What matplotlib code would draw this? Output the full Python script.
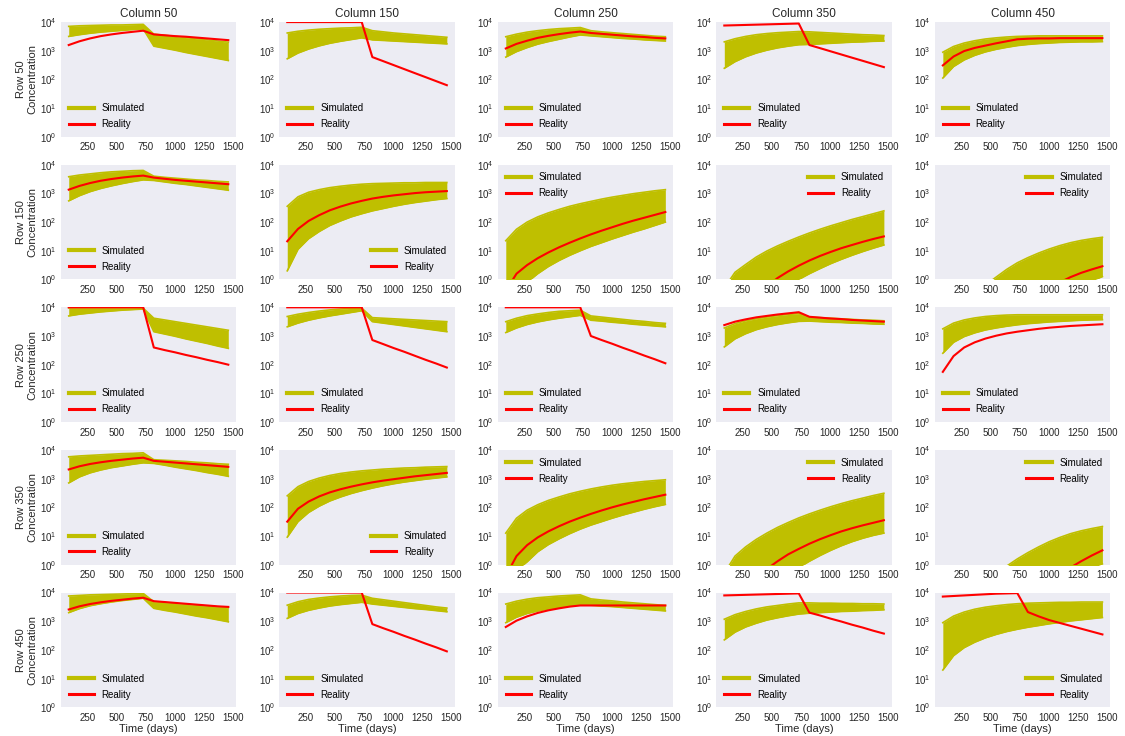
import numpy as np
import matplotlib
matplotlib.use("Agg")
import matplotlib.pyplot as plt
from matplotlib.lines import Line2D

plt.rcParams['font.family'] = ['Liberation Sans', 'DejaVu Sans']

# sampling times (days), roughly quarterly
days = [91, 183, 274, 365, 456, 548, 639, 730, 821, 913, 1004, 1095, 1186, 1278, 1369, 1460]

rows = [50, 150, 250, 350, 450]
cols = [50, 150, 250, 350, 450]

# log10 concentration: upper / lower edge of the simulated ensemble, and observed
sim_hi_row50 = [
    [3.85, 3.87, 3.88, 3.89, 3.90, 3.90, 3.91, 3.92, 3.58, 3.54, 3.50, 3.46, 3.42, 3.38, 3.34, 3.30],
    [3.62, 3.68, 3.72, 3.75, 3.77, 3.79, 3.80, 3.82, 3.70, 3.66, 3.62, 3.59, 3.56, 3.53, 3.50, 3.47],
    [3.49, 3.58, 3.65, 3.70, 3.74, 3.77, 3.79, 3.81, 3.70, 3.66, 3.63, 3.60, 3.57, 3.54, 3.51, 3.49],
    [3.31, 3.42, 3.50, 3.56, 3.60, 3.63, 3.65, 3.67, 3.66, 3.64, 3.62, 3.60, 3.58, 3.56, 3.55, 3.53],
    [2.95, 3.15, 3.27, 3.35, 3.41, 3.45, 3.48, 3.50, 3.51, 3.52, 3.52, 3.52, 3.52, 3.52, 3.52, 3.52],
]
sim_lo_row50 = [
    [3.50, 3.56, 3.61, 3.65, 3.68, 3.71, 3.74, 3.76, 3.16, 3.09, 3.02, 2.94, 2.87, 2.80, 2.73, 2.66],
    [2.72, 2.92, 3.06, 3.17, 3.26, 3.33, 3.39, 3.45, 3.38, 3.36, 3.34, 3.32, 3.30, 3.28, 3.26, 3.24],
    [2.78, 2.97, 3.11, 3.23, 3.32, 3.40, 3.48, 3.55, 3.52, 3.49, 3.46, 3.43, 3.41, 3.38, 3.36, 3.34],
    [2.39, 2.62, 2.79, 2.92, 3.02, 3.10, 3.16, 3.21, 3.22, 3.24, 3.26, 3.28, 3.30, 3.31, 3.33, 3.34],
    [2.05, 2.45, 2.68, 2.84, 2.96, 3.05, 3.12, 3.18, 3.22, 3.25, 3.27, 3.29, 3.30, 3.31, 3.31, 3.32],
]
obs_row50 = [
    [3.20, 3.33, 3.43, 3.51, 3.57, 3.62, 3.66, 3.70, 3.57, 3.54, 3.51, 3.49, 3.46, 3.43, 3.40, 3.37],
    [4.00, 4.00, 4.00, 4.00, 4.00, 4.00, 4.00, 4.00, 2.78, 2.64, 2.50, 2.36, 2.22, 2.08, 1.94, 1.80],
    [3.08, 3.24, 3.35, 3.45, 3.52, 3.58, 3.63, 3.67, 3.62, 3.59, 3.56, 3.53, 3.50, 3.48, 3.45, 3.43],
    [3.88, 3.89, 3.90, 3.91, 3.92, 3.93, 3.94, 3.95, 3.20, 3.09, 2.98, 2.87, 2.76, 2.65, 2.54, 2.43],
    [2.49, 2.80, 2.99, 3.10, 3.18, 3.26, 3.33, 3.40, 3.42, 3.43, 3.43, 3.44, 3.44, 3.44, 3.44, 3.44],
]

sim_hi_row150 = [
    [3.58, 3.64, 3.68, 3.72, 3.75, 3.77, 3.79, 3.80, 3.60, 3.56, 3.53, 3.50, 3.47, 3.45, 3.42, 3.40],
    [2.55, 2.88, 3.04, 3.13, 3.20, 3.25, 3.29, 3.32, 3.34, 3.35, 3.36, 3.37, 3.37, 3.38, 3.38, 3.38],
    [1.35, 1.75, 2.00, 2.18, 2.32, 2.44, 2.55, 2.64, 2.72, 2.80, 2.87, 2.93, 2.99, 3.04, 3.09, 3.13],
    [-0.30, 0.25, 0.52, 0.78, 0.99, 1.17, 1.33, 1.48, 1.62, 1.75, 1.87, 1.98, 2.09, 2.19, 2.29, 2.39],
    [-1.80, -1.30, -0.90, -0.55, -0.20, 0.08, 0.35, 0.58, 0.76, 0.92, 1.06, 1.18, 1.28, 1.36, 1.42, 1.47],
]
sim_lo_row150 = [
    [2.74, 2.92, 3.06, 3.17, 3.26, 3.34, 3.41, 3.47, 3.45, 3.40, 3.35, 3.31, 3.26, 3.21, 3.16, 3.11],
    [0.30, 1.05, 1.42, 1.67, 1.88, 2.04, 2.18, 2.29, 2.39, 2.47, 2.55, 2.62, 2.68, 2.73, 2.78, 2.82],
    [-1.00, -0.50, -0.10, 0.20, 0.45, 0.66, 0.84, 1.00, 1.15, 1.28, 1.41, 1.53, 1.65, 1.76, 1.88, 2.00],
    [-2.50, -2.00, -1.60, -1.20, -0.85, -0.55, -0.25, 0.00, 0.20, 0.38, 0.55, 0.70, 0.84, 0.97, 1.09, 1.20],
    [-4.00, -3.50, -3.00, -2.60, -2.20, -1.85, -1.55, -1.28, -1.05, -0.84, -0.65, -0.48, -0.32, -0.18, -0.05, 0.10],
]
obs_row150 = [
    [3.13, 3.26, 3.36, 3.44, 3.50, 3.55, 3.59, 3.62, 3.55, 3.51, 3.47, 3.44, 3.41, 3.38, 3.35, 3.32],
    [1.33, 1.76, 2.04, 2.24, 2.41, 2.54, 2.65, 2.74, 2.82, 2.88, 2.93, 2.97, 3.01, 3.04, 3.06, 3.08],
    [-0.40, 0.20, 0.50, 0.74, 0.94, 1.12, 1.28, 1.43, 1.57, 1.70, 1.82, 1.94, 2.05, 2.15, 2.25, 2.35],
    [-1.60, -1.20, -0.85, -0.55, -0.25, 0.05, 0.28, 0.48, 0.66, 0.82, 0.96, 1.09, 1.20, 1.31, 1.41, 1.50],
    [-3.50, -3.00, -2.60, -2.20, -1.85, -1.50, -1.20, -0.95, -0.70, -0.48, -0.28, -0.10, 0.08, 0.23, 0.35, 0.46],
]

sim_hi_row250 = [
    [3.98, 3.98, 3.98, 3.98, 3.98, 3.98, 3.98, 3.97, 3.62, 3.56, 3.50, 3.44, 3.38, 3.32, 3.26, 3.20],
    [3.68, 3.76, 3.82, 3.87, 3.91, 3.94, 3.96, 3.97, 3.64, 3.62, 3.60, 3.58, 3.56, 3.54, 3.52, 3.50],
    [3.50, 3.62, 3.71, 3.77, 3.82, 3.86, 3.88, 3.90, 3.70, 3.66, 3.62, 3.58, 3.54, 3.51, 3.47, 3.44],
    [3.28, 3.43, 3.53, 3.60, 3.66, 3.71, 3.75, 3.78, 3.66, 3.64, 3.62, 3.60, 3.58, 3.56, 3.55, 3.53],
    [3.25, 3.45, 3.56, 3.63, 3.68, 3.71, 3.73, 3.74, 3.74, 3.74, 3.74, 3.74, 3.74, 3.74, 3.74, 3.74],
]
sim_lo_row250 = [
    [3.70, 3.76, 3.80, 3.84, 3.87, 3.90, 3.92, 3.94, 3.15, 3.07, 2.99, 2.90, 2.82, 2.74, 2.65, 2.57],
    [3.32, 3.45, 3.55, 3.63, 3.70, 3.76, 3.82, 3.88, 3.50, 3.45, 3.40, 3.35, 3.30, 3.25, 3.20, 3.15],
    [3.12, 3.28, 3.40, 3.49, 3.56, 3.62, 3.67, 3.72, 3.55, 3.52, 3.48, 3.45, 3.41, 3.38, 3.35, 3.32],
    [2.62, 2.90, 3.08, 3.22, 3.32, 3.40, 3.46, 3.51, 3.52, 3.50, 3.48, 3.47, 3.45, 3.44, 3.42, 3.41],
    [2.40, 2.78, 2.98, 3.11, 3.21, 3.28, 3.34, 3.39, 3.43, 3.46, 3.49, 3.51, 3.53, 3.55, 3.56, 3.57],
]
obs_row250 = [
    [4.00, 4.00, 4.00, 4.00, 4.00, 4.00, 4.00, 4.00, 2.60, 2.51, 2.43, 2.34, 2.26, 2.17, 2.09, 2.00],
    [4.00, 4.00, 4.00, 4.00, 4.00, 4.00, 4.00, 4.00, 2.86, 2.72, 2.58, 2.45, 2.31, 2.17, 2.04, 1.90],
    [4.00, 4.00, 4.00, 4.00, 4.00, 4.00, 4.00, 4.00, 3.00, 2.86, 2.73, 2.59, 2.46, 2.32, 2.19, 2.05],
    [3.38, 3.50, 3.58, 3.65, 3.70, 3.75, 3.79, 3.83, 3.67, 3.64, 3.61, 3.59, 3.56, 3.54, 3.52, 3.50],
    [1.75, 2.30, 2.60, 2.78, 2.91, 3.01, 3.09, 3.15, 3.20, 3.25, 3.29, 3.32, 3.35, 3.37, 3.39, 3.41],
]

sim_hi_row350 = [
    [3.76, 3.79, 3.81, 3.83, 3.85, 3.87, 3.88, 3.90, 3.66, 3.64, 3.62, 3.60, 3.57, 3.55, 3.52, 3.50],
    [2.40, 2.72, 2.90, 3.02, 3.11, 3.18, 3.23, 3.27, 3.30, 3.33, 3.35, 3.37, 3.38, 3.40, 3.41, 3.42],
    [1.10, 1.62, 1.90, 2.09, 2.24, 2.36, 2.47, 2.56, 2.64, 2.71, 2.77, 2.82, 2.86, 2.90, 2.93, 2.96],
    [-0.30, 0.30, 0.62, 0.88, 1.10, 1.30, 1.47, 1.63, 1.77, 1.90, 2.02, 2.13, 2.23, 2.32, 2.41, 2.49],
    [-2.60, -2.00, -1.50, -1.10, -0.70, -0.35, -0.05, 0.20, 0.42, 0.62, 0.80, 0.95, 1.08, 1.18, 1.26, 1.33],
]
sim_lo_row350 = [
    [2.85, 3.06, 3.20, 3.30, 3.38, 3.44, 3.50, 3.55, 3.53, 3.47, 3.40, 3.34, 3.28, 3.21, 3.15, 3.08],
    [0.96, 1.50, 1.82, 2.04, 2.22, 2.36, 2.48, 2.58, 2.67, 2.75, 2.82, 2.88, 2.93, 2.98, 3.02, 3.06],
    [-0.80, -0.20, 0.10, 0.45, 0.70, 0.90, 1.08, 1.24, 1.38, 1.50, 1.62, 1.73, 1.83, 1.93, 2.02, 2.10],
    [-2.60, -2.10, -1.65, -1.25, -0.90, -0.60, -0.33, -0.10, 0.12, 0.32, 0.50, 0.66, 0.80, 0.92, 1.02, 1.10],
    [-5.00, -4.50, -4.00, -3.50, -3.10, -2.70, -2.30, -1.95, -1.60, -1.30, -1.00, -0.75, -0.50, -0.30, -0.12, 0.03],
]
obs_row350 = [
    [3.32, 3.43, 3.51, 3.57, 3.62, 3.66, 3.70, 3.73, 3.62, 3.59, 3.56, 3.53, 3.50, 3.47, 3.44, 3.41],
    [1.50, 1.95, 2.20, 2.38, 2.52, 2.63, 2.72, 2.80, 2.87, 2.93, 2.98, 3.03, 3.08, 3.12, 3.16, 3.20],
    [-0.40, 0.30, 0.68, 0.95, 1.16, 1.34, 1.50, 1.64, 1.77, 1.89, 2.00, 2.10, 2.19, 2.28, 2.36, 2.44],
    [-1.70, -1.20, -0.80, -0.45, -0.15, 0.12, 0.36, 0.55, 0.73, 0.89, 1.03, 1.16, 1.27, 1.37, 1.46, 1.55],
    [-4.50, -4.00, -3.50, -3.00, -2.60, -2.20, -1.85, -1.50, -1.20, -0.90, -0.62, -0.35, -0.10, 0.12, 0.32, 0.50],
]

sim_hi_row450 = [
    [3.88, 3.90, 3.92, 3.93, 3.94, 3.95, 3.96, 3.97, 3.68, 3.65, 3.62, 3.59, 3.56, 3.53, 3.50, 3.47],
    [3.56, 3.68, 3.76, 3.81, 3.85, 3.88, 3.90, 3.91, 3.80, 3.75, 3.70, 3.65, 3.60, 3.55, 3.50, 3.46],
    [3.60, 3.70, 3.77, 3.82, 3.85, 3.88, 3.90, 3.92, 3.78, 3.74, 3.71, 3.67, 3.64, 3.61, 3.58, 3.55],
    [3.07, 3.23, 3.34, 3.43, 3.50, 3.55, 3.60, 3.64, 3.64, 3.63, 3.63, 3.62, 3.62, 3.61, 3.61, 3.60],
    [2.95, 3.18, 3.32, 3.42, 3.49, 3.54, 3.58, 3.61, 3.63, 3.64, 3.65, 3.66, 3.66, 3.67, 3.67, 3.67],
]
sim_lo_row450 = [
    [3.30, 3.44, 3.54, 3.61, 3.67, 3.72, 3.76, 3.80, 3.45, 3.38, 3.32, 3.25, 3.18, 3.12, 3.05, 2.98],
    [3.10, 3.27, 3.38, 3.46, 3.53, 3.58, 3.62, 3.66, 3.60, 3.56, 3.52, 3.48, 3.44, 3.41, 3.37, 3.33],
    [2.95, 3.14, 3.27, 3.36, 3.43, 3.49, 3.54, 3.58, 3.56, 3.53, 3.51, 3.48, 3.45, 3.42, 3.39, 3.36],
    [2.35, 2.62, 2.80, 2.93, 3.04, 3.12, 3.19, 3.25, 3.28, 3.30, 3.32, 3.34, 3.35, 3.37, 3.38, 3.40],
    [1.30, 1.80, 2.08, 2.27, 2.42, 2.54, 2.64, 2.72, 2.79, 2.85, 2.91, 2.96, 3.01, 3.05, 3.09, 3.13],
]
obs_row450 = [
    [3.41, 3.52, 3.60, 3.66, 3.71, 3.75, 3.79, 3.82, 3.70, 3.67, 3.64, 3.61, 3.58, 3.55, 3.52, 3.50],
    [4.00, 4.00, 4.00, 4.00, 4.00, 4.00, 4.00, 4.00, 2.90, 2.76, 2.63, 2.49, 2.36, 2.22, 2.09, 1.95],
    [2.80, 3.02, 3.17, 3.29, 3.38, 3.45, 3.51, 3.55, 3.55, 3.55, 3.55, 3.55, 3.55, 3.55, 3.55, 3.55],
    [3.90, 3.91, 3.92, 3.93, 3.94, 3.95, 3.96, 3.97, 3.30, 3.20, 3.09, 2.99, 2.88, 2.78, 2.67, 2.57],
    [3.86, 3.88, 3.90, 3.92, 3.94, 3.96, 3.97, 3.98, 3.32, 3.17, 3.04, 2.94, 2.84, 2.74, 2.64, 2.54],
]

sim_hi = [sim_hi_row50, sim_hi_row150, sim_hi_row250, sim_hi_row350, sim_hi_row450]
sim_lo = [sim_lo_row50, sim_lo_row150, sim_lo_row250, sim_lo_row350, sim_lo_row450]
obs = [obs_row50, obs_row150, obs_row250, obs_row350, obs_row450]

legend_locs = [
    ['lower left'] * 5,
    ['lower left', 'lower right', 'upper left', 'upper right', 'upper right'],
    ['lower left'] * 5,
    ['lower left', 'lower right', 'upper left', 'upper right', 'upper right'],
    ['lower left', 'lower left', 'lower left', 'lower left', 'lower right'],
]

sim_color = (0.75, 0.75, 0.0)
bg_color = '#ECECF3'
text_color = '#262626'

fig, axes = plt.subplots(5, 5, figsize=(11.25, 7.36), dpi=100)
fig.subplots_adjust(left=0.054, right=0.987, top=0.970, bottom=0.039,
                    wspace=0.245, hspace=0.243)

t = np.array(days)
for i, row in enumerate(rows):
    for j, col in enumerate(cols):
        ax = axes[i, j]
        ax.set_facecolor(bg_color)
        for s in ax.spines.values():
            s.set_visible(False)

        hi = 10.0 ** np.array(sim_hi[i][j])
        lo = 10.0 ** np.array(sim_lo[i][j])
        ax.fill_between(t, lo, hi, color=sim_color, lw=0)
        ax.plot(t, hi, color=sim_color, lw=1.2)
        ax.plot(t, lo, color=sim_color, lw=1.2)
        ax.plot(t, 10.0 ** np.array(obs[i][j]), color='red', lw=1.5)

        ax.set_yscale('log')
        ax.set_ylim(1, 1e4)
        ax.set_xticks([250, 500, 750, 1000, 1250, 1500])
        ax.tick_params(which='both', length=0, labelsize=7, colors=text_color, pad=3)
        ax.tick_params(axis='x', pad=4)

        handles = [Line2D([], [], color=sim_color, lw=3),
                   Line2D([], [], color='red', lw=2.2)]
        ax.legend(handles, ['Simulated', 'Reality'], loc=legend_locs[i][j],
                  frameon=False, fontsize=7, handlelength=2.6,
                  borderaxespad=0.4, labelspacing=0.6)

        if i == 0:
            ax.set_title(f'Column {col}', fontsize=8.5, color=text_color, pad=4)
        if j == 0:
            ax.set_ylabel(f'Row {row}\nConcentration', fontsize=8, color=text_color, labelpad=2)
        if i == len(rows) - 1:
            ax.set_xlabel('Time (days)', fontsize=8, color=text_color, labelpad=1)

fig.savefig('out.png', dpi=100)
